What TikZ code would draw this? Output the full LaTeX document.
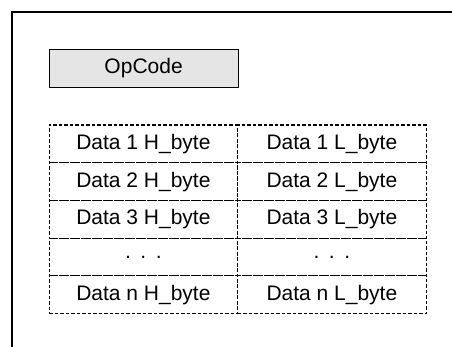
\documentclass[tikz,border=0pt]{standalone}
\usepackage{fontspec}
\setmainfont{Liberation Sans}
\begin{document}
\begin{tikzpicture}[x=1pt,y=-1pt,
  frameline/.style={line width=1.6pt, black},
  opbox/.style={draw=black, line width=1.2pt, fill=black!10, minimum width=189pt, minimum height=38pt, inner sep=0pt, font=\fontsize{21}{25}\selectfont},
  cell/.style={draw=black, dashed, dash pattern=on 3.5pt off 2pt, line width=1.15pt, minimum width=188.5pt, minimum height=37.7pt, inner sep=0pt, font=\fontsize{21}{25}\selectfont}
]
\useasboundingbox (0,0) rectangle (452,347);
% open frame: top and left edges only
\draw[frameline] (12,347) -- (12,12) -- (452,12);
% opcode field
\node[opbox] (op) at (143.6,68.3) {OpCode};
% data words: high byte and low byte per row
\node[cell] (h1) at (143.4,143.9) {Data 1 H\_byte};
\node[cell] (l1) at (331.9,143.9) {Data 1 L\_byte};
\node[cell] (h2) at (143.4,181.6) {Data 2 H\_byte};
\node[cell] (l2) at (331.9,181.6) {Data 2 L\_byte};
\node[cell] (h3) at (143.4,219.3) {Data 3 H\_byte};
\node[cell] (l3) at (331.9,219.3) {Data 3 L\_byte};
\node[cell] (h4) at (143.4,257.0) {.\hspace{0.45em}.\hspace{0.45em}.};
\node[cell] (l4) at (331.9,257.0) {.\hspace{0.45em}.\hspace{0.45em}.};
\node[cell] (hn) at (143.4,294.7) {Data n H\_byte};
\node[cell] (ln) at (331.9,294.7) {Data n L\_byte};
\end{tikzpicture}
\end{document}
